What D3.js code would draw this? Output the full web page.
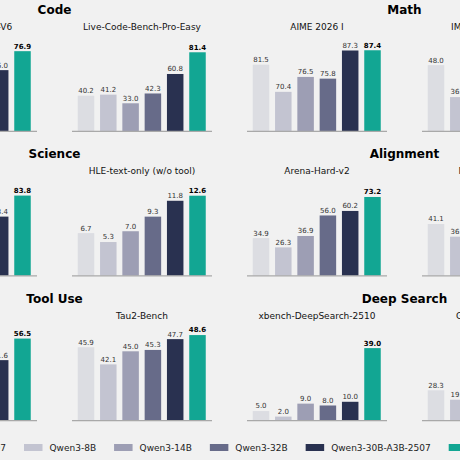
<!DOCTYPE html>
<html>
<head>
<meta charset="utf-8">
<script src="https://cdn.jsdelivr.net/npm/d3@7"></script>
<style>
  html, body { margin: 0; padding: 0; background: #f1f1f1; }
  svg { display: block; font-family: "DejaVu Sans", sans-serif; }
</style>
</head>
<body>
<script>
// ---------- DATA ----------
const models = ["Qwen3-4B-2507", "Qwen3-8B", "Qwen3-14B", "Qwen3-32B", "Qwen3-30B-A3B-2507", "Qwen3.5-35B-A3B"];
const groups = ["Code", "Math", "Science", "Alignment", "Tool Use", "Deep Search"];
const benchmarks = [
  "Live-Code-Bench-V6", "Live-Code-Bench-Pro-Easy", "AIME 2026 I", "IMO-AnswerBench",
  "GPQA", "HLE-text-only (w/o tool)", "Arena-Hard-v2", "MultiChallenge",
  "BFCL-V4", "Tau2-Bench", "xbench-DeepSearch-2510", "GAIA (text-only)"
];
// values per benchmark (null = not visible in the picture)
const liveCodeBenchV6   = [null, null, null, null, 66.0, 76.9];
const liveCodeBenchPro  = [40.2, 41.2, 33.0, 42.3, 60.8, 81.4];
const aime2026          = [81.5, 70.4, 76.5, 75.8, 87.3, 87.4];
const imoAnswerBench    = [48.0, 36.5, null, null, null, null];
const gpqa              = [null, null, null, null, 73.4, 83.8];
const hleTextOnly       = [6.7, 5.3, 7.0, 9.3, 11.8, 12.6];
const arenaHardV2       = [34.9, 26.3, 36.9, 56.0, 60.2, 73.2];
const multiChallenge    = [41.1, 36.5, null, null, null, null];
const bfcl              = [null, null, null, null, 41.6, 56.5];
const tau2Bench         = [45.9, 42.1, 45.0, 45.3, 47.7, 48.6];
const xbenchDeepSearch  = [5.0, 2.0, 9.0, 8.0, 10.0, 39.0];
const gaiaText          = [28.3, 19.4, null, null, null, null];
// y-axis limits per benchmark
const yLo = [31, 6.7, 54.4, 24.3, 44.2, 0, 0, 22.4, 0, 29.7, 0, 0];
const yHi = [83.9, 94.0, 92.0, 57.4, 89.7, 14.5, 85.6, 55.7, 63.6, 50.1, 49.7, 86.8];

const seriesValues = [liveCodeBenchV6, liveCodeBenchPro, aime2026, imoAnswerBench,
  gpqa, hleTextOnly, arenaHardV2, multiChallenge, bfcl, tau2Bench, xbenchDeepSearch, gaiaText];

// ---------- STYLE / LAYOUT ----------
const colors = ["#dcdde2", "#c3c4d1", "#9d9eb4", "#676b89", "#293150", "#12a693"];
const W = 460, H = 460;
const panelW = 140, colPitch = 175, firstX = -103;
const rowBase0 = 131, rowPitch = 144.65, axisH = 92;

const svg = d3.select("body").append("svg").attr("width", W).attr("height", H);
svg.append("rect").attr("width", W).attr("height", H).attr("fill", "#f1f1f1");

const fmt = d3.format(".1f");

benchmarks.forEach((name, i) => {
  const row = Math.floor(i / 4), col = i % 4;
  const x0 = firstX + col * colPitch;
  const base = rowBase0 + row * rowPitch;
  const g = svg.append("g");

  const x = d3.scaleBand().domain(models)
    .range([x0 + 5.75, x0 + 133.75]).paddingInner(0.26).paddingOuter(0);
  const y = d3.scaleLinear().domain([yLo[i], yHi[i]]).range([base, base - axisH]);

  const data = models.map((m, j) => ({ m, j, v: seriesValues[i][j] })).filter(d => d.v != null);

  g.selectAll("rect.bar").data(data).join("rect")
    .attr("class", "bar")
    .attr("x", d => x(d.m))
    .attr("width", x.bandwidth())
    .attr("y", d => y(d.v))
    .attr("height", d => base - y(d.v))
    .attr("fill", d => colors[d.j]);

  g.selectAll("text.val").data(data).join("text")
    .attr("class", "val")
    .attr("x", d => x(d.m) + x.bandwidth() / 2)
    .attr("y", d => y(d.v) - 2.6)
    .attr("text-anchor", "middle")
    .attr("font-size", 7)
    .attr("font-weight", d => d.j === models.length - 1 ? "bold" : "normal")
    .attr("fill", d => d.j === models.length - 1 ? "#000" : "#333")
    .text(d => fmt(d.v));

  // baseline
  g.append("line")
    .attr("x1", x0).attr("x2", x0 + panelW)
    .attr("y1", base + 0.3).attr("y2", base + 0.3)
    .attr("stroke", "#a9a9a9").attr("stroke-width", 1.2);

  // subplot title
  g.append("text")
    .attr("x", x0 + panelW / 2).attr("y", base - 101.5)
    .attr("text-anchor", "middle").attr("font-size", 9).attr("fill", "#111")
    .text(name);
});

// group titles
groups.forEach((name, k) => {
  const row = Math.floor(k / 2), half = k % 2;
  const xa = firstX + half * 2 * colPitch;
  const xb = xa + colPitch + panelW;
  svg.append("text")
    .attr("x", (xa + xb) / 2)
    .attr("y", 13.6 + row * rowPitch)
    .attr("text-anchor", "middle").attr("font-size", 12).attr("font-weight", "bold")
    .attr("fill", "#000")
    .text(name);
});

// legend
const legend = svg.append("g");
const patchW = 18.5, patchH = 7, gapText = 7, gapItem = 18;
let cx = 0;
const starts = [];
models.forEach((m, j) => {
  const it = legend.append("g").attr("transform", `translate(${cx},0)`);
  starts.push(cx);
  it.append("rect").attr("x", 0).attr("y", 444).attr("width", patchW).attr("height", patchH)
    .attr("fill", colors[j]);
  const t = it.append("text").attr("x", patchW + gapText).attr("y", 451)
    .attr("font-size", 9).attr("fill", "#222").text(m);
  cx += patchW + gapText + t.node().getComputedTextLength() + gapItem;
});
legend.attr("transform", `translate(${24 - starts[1]},0)`);
</script>
</body>
</html>
